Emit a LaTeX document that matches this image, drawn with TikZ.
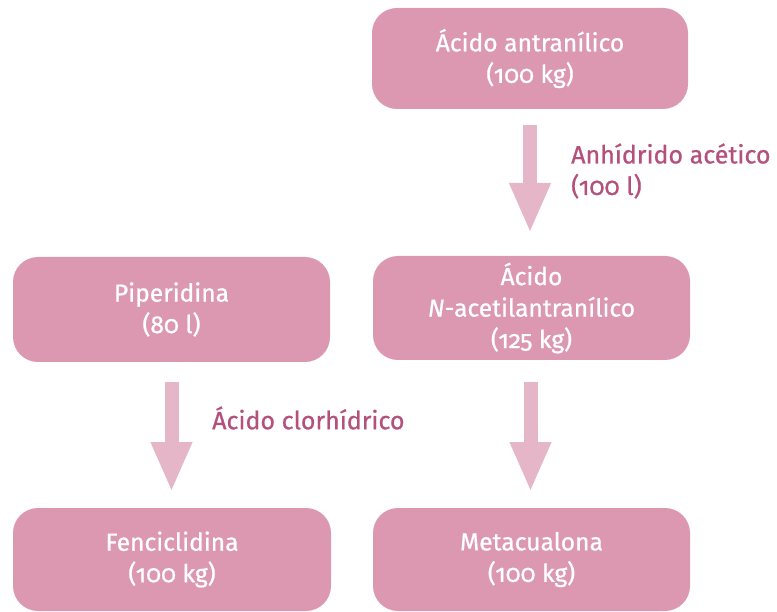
\documentclass[tikz,border=0pt]{standalone}
\usepackage{fontspec}
\setmainfont[Numbers=OldStyle,FakeBold=0.8]{Fira Sans}
\usetikzlibrary{arrows.meta}
\definecolor{boxpink}{RGB}{219,152,176}
\definecolor{arrowpink}{RGB}{228,182,200}
\definecolor{labelpink}{RGB}{180,80,124}
\tikzset{
  box/.style={fill=boxpink, rounded corners=25pt, text=white, align=center,
    inner sep=0pt, font=\fontsize{24.6}{31.5}\selectfont},
  flow/.style={draw=arrowpink, line width=14pt,
    -{Triangle[width=38pt,length=50pt]}},
  lbl/.style={text=labelpink, align=left, anchor=west, inner sep=0pt,
    font=\fontsize{25}{31.5}\selectfont}
}
\begin{document}
\begin{tikzpicture}[x=1pt,y=-1pt]
\useasboundingbox (0,0) rectangle (777,612);
\node[box, minimum width=316pt, minimum height=101pt] (antr) at (530,58.5) {Ácido antranílico\\(100 kg)};
\node[box, minimum width=317pt, minimum height=104pt] (acet) at (531.5,308) {Ácido\\\textit{N}-acetilantranílico\\(125 kg)};
\node[box, minimum width=317pt, minimum height=105pt] (pip) at (171.5,309.5) {Piperidina\\(80 l)};
\node[box, minimum width=318pt, minimum height=103pt] (fen) at (172,559.5) {Fenciclidina\\(100 kg)};
\node[box, minimum width=317pt, minimum height=103pt] (met) at (531.5,559.5) {Metacualona\\(100 kg)};
\coordinate (a1s) at (530,125);
\coordinate (a1e) at (530,233);
\coordinate (a2s) at (171.5,382);
\coordinate (a2e) at (171.5,492);
\coordinate (a3s) at (530.5,382);
\coordinate (a3e) at (530.5,492);
\draw[flow] (a1s) -- (a1e);
\draw[flow] (a2s) -- (a2e);
\draw[flow] (a3s) -- (a3e);
\node[lbl] (anh) at (571,171) {Anhídrido acético\\(100 l)};
\node[lbl] (hcl) at (212,418) {Ácido clorhídrico};
\end{tikzpicture}
\end{document}
